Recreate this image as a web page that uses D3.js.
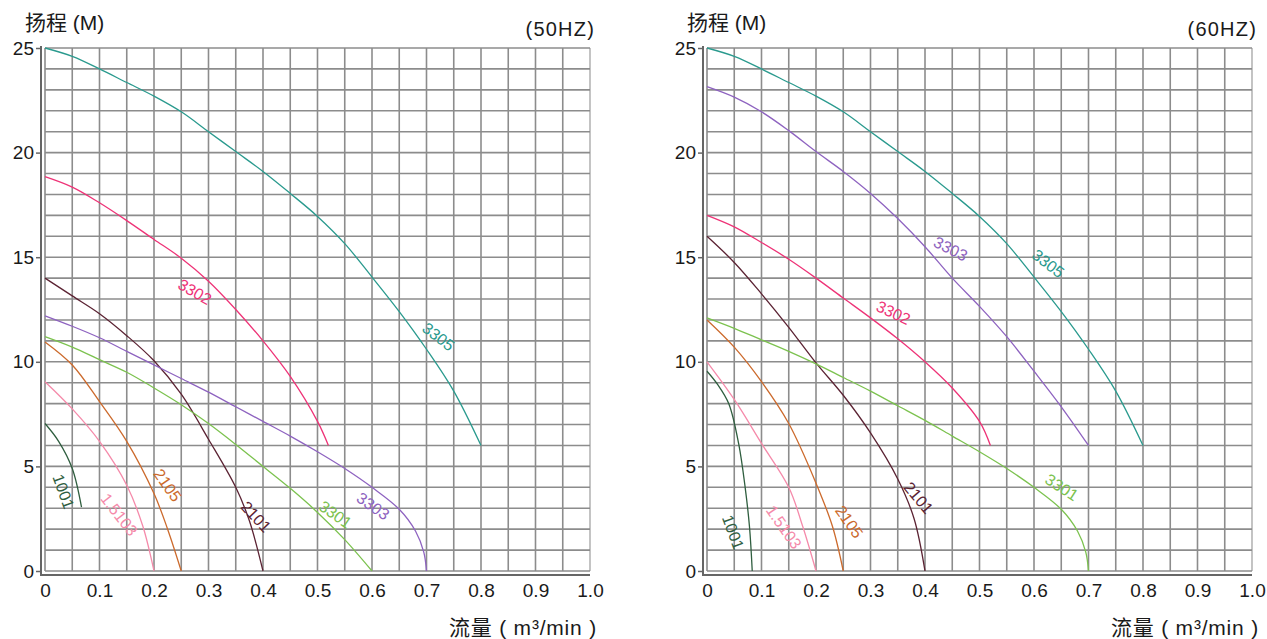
<!DOCTYPE html>
<html>
<head>
<meta charset="utf-8">
<title>水泵性能曲线</title>
<script src="https://cdn.jsdelivr.net/npm/d3@7/dist/d3.min.js"></script>
<style>
body {
  margin: 0;
  background: #fff;
  font-family: "Liberation Sans", Arial, "Noto Sans CJK SC", sans-serif;
}
</style>
</head>
<body>
<svg id="chart" width="1267" height="639"></svg>
<script>

// tick labels
var flowTicks = [0, 0.1, 0.2, 0.3, 0.4, 0.5, 0.6, 0.7, 0.8, 0.9, 1.0];
var flowTickText = ["0", "0.1", "0.2", "0.3", "0.4", "0.5", "0.6", "0.7", "0.8", "0.9", "1.0"];
var headTicks = [0, 5, 10, 15, 20, 25];

// pump models and their colours
var models = ["1001", "1.5103", "2105", "2101", "3301", "3303", "3302", "3305"];
var modelColors = ["#2f5e3f", "#f58aaa", "#cc6a2c", "#5b2333", "#7cc24f", "#8e63c0", "#ee3377", "#2a9a8e"];

// 50HZ curves: [flow m3/min, head m]
var hz50_1001 = [[0, 7.05], [0.025, 6.2], [0.05, 4.9], [0.067, 3.05]];
var hz50_15103 = [[0, 9.05], [0.05, 7.75], [0.1, 6.2], [0.15, 4.1], [0.18, 2.1], [0.2, 0]];
var hz50_2105 = [[0, 10.95], [0.05, 9.85], [0.1, 8.1], [0.15, 6.2], [0.2, 3.7], [0.225, 2.0], [0.25, 0]];
var hz50_2101 = [[0, 14], [0.05, 13.15], [0.1, 12.3], [0.15, 11.25], [0.2, 10.05], [0.25, 8.45], [0.3, 6.3], [0.35, 4.0], [0.375, 2.4], [0.4, 0]];
var hz50_3301 = [[0, 11.2], [0.05, 10.7], [0.1, 10.1], [0.15, 9.5], [0.2, 8.75], [0.25, 7.95], [0.3, 7.05], [0.35, 6.05], [0.4, 5.0], [0.45, 3.95], [0.5, 2.8], [0.55, 1.5], [0.6, 0]];
var hz50_3303 = [[0, 12.2], [0.05, 11.7], [0.1, 11.15], [0.15, 10.5], [0.2, 9.85], [0.25, 9.2], [0.3, 8.55], [0.35, 7.85], [0.4, 7.15], [0.45, 6.45], [0.5, 5.7], [0.55, 4.9], [0.6, 4.0], [0.65, 2.95], [0.68, 1.9], [0.695, 0.9], [0.7, 0]];
var hz50_3302 = [[0, 18.85], [0.05, 18.35], [0.1, 17.6], [0.15, 16.75], [0.2, 15.85], [0.25, 14.95], [0.3, 13.85], [0.35, 12.5], [0.4, 11.0], [0.45, 9.3], [0.5, 7.15], [0.52, 6]];
var hz50_3305 = [[0, 25], [0.05, 24.6], [0.1, 24], [0.15, 23.35], [0.2, 22.7], [0.25, 21.95], [0.3, 21], [0.35, 20.05], [0.4, 19.1], [0.45, 18.05], [0.5, 16.95], [0.55, 15.65], [0.6, 14.05], [0.65, 12.4], [0.7, 10.6], [0.75, 8.6], [0.8, 6]];

// 60HZ curves
var hz60_1001 = [[0, 9.55], [0.02, 8.9], [0.04, 8.0], [0.058, 6.1], [0.07, 4.0], [0.078, 2.1], [0.083, 0]];
var hz60_15103 = [[0, 10], [0.05, 8.2], [0.1, 6.1], [0.15, 4.0], [0.176, 2.1], [0.2, 0]];
var hz60_2105 = [[0, 12], [0.05, 10.7], [0.1, 9.05], [0.15, 7.05], [0.2, 4.2], [0.23, 2.15], [0.25, 0]];
var hz60_2101 = [[0, 16], [0.05, 14.75], [0.1, 13.25], [0.15, 11.65], [0.2, 9.95], [0.25, 8.4], [0.3, 6.6], [0.35, 4.4], [0.38, 2.5], [0.4, 0]];
var hz60_3301 = [[0, 12.1], [0.05, 11.6], [0.1, 11.05], [0.15, 10.5], [0.2, 9.9], [0.25, 9.25], [0.3, 8.6], [0.35, 7.9], [0.4, 7.2], [0.45, 6.45], [0.5, 5.7], [0.55, 4.9], [0.6, 4.0], [0.65, 2.95], [0.68, 1.9], [0.695, 0.9], [0.7, 0]];
var hz60_3303 = [[0, 23.15], [0.05, 22.65], [0.1, 21.95], [0.15, 21.05], [0.2, 20.05], [0.25, 19.1], [0.3, 18.05], [0.35, 16.85], [0.4, 15.5], [0.45, 14.0], [0.5, 12.65], [0.55, 11.2], [0.6, 9.55], [0.65, 7.85], [0.7, 6]];
var hz60_3302 = [[0, 17], [0.05, 16.45], [0.1, 15.7], [0.15, 14.9], [0.2, 14.0], [0.25, 13.05], [0.3, 12.1], [0.35, 11.1], [0.4, 10.0], [0.45, 8.75], [0.5, 7.15], [0.52, 6]];
var hz60_3305 = [[0, 25], [0.05, 24.6], [0.1, 24], [0.15, 23.35], [0.2, 22.7], [0.25, 21.95], [0.3, 21], [0.35, 20.05], [0.4, 19.1], [0.45, 18.05], [0.5, 16.95], [0.55, 15.65], [0.6, 14.05], [0.65, 12.4], [0.7, 10.6], [0.75, 8.6], [0.8, 6]];

// where the model name sits on each panel: [flow, head, rotation]
var labelSpots50 = [[0.034, 3.8, 70], [0.136, 2.7, 52], [0.225, 4.1, 55], [0.387, 2.6, 47], [0.533, 2.7, 35], [0.602, 3.1, 35], [0.275, 13.35, 30], [0.722, 11.2, 38]];
var labelSpots60 = [[0.048, 1.85, 70], [0.141, 2.1, 55], [0.261, 2.35, 55], [0.388, 3.5, 50], [0.651, 4.0, 33], [0.447, 15.4, 27], [0.342, 12.35, 25], [0.626, 14.7, 38]];

var panels = [
  { title: "(50HZ)", left: 45, curves: [hz50_1001, hz50_15103, hz50_2105, hz50_2101, hz50_3301, hz50_3303, hz50_3302, hz50_3305], spots: labelSpots50 },
  { title: "(60HZ)", left: 707, curves: [hz60_1001, hz60_15103, hz60_2105, hz60_2101, hz60_3301, hz60_3303, hz60_3302, hz60_3305], spots: labelSpots60 }
];

var plotW = 545, plotTop = 48, plotBottom = 571;
var svg = d3.select("#chart");

panels.forEach(function (p) {
  var x = d3.scaleLinear().domain([0, 1]).range([p.left, p.left + plotW]);
  var y = d3.scaleLinear().domain([0, 25]).range([plotBottom, plotTop]);
  var g = svg.append("g");

  // grid: every 0.05 on flow, every 1 m on head
  g.selectAll("line.v").data(d3.range(0, 21)).enter().append("line")
    .attr("x1", function (i) { return x(i * 0.05); })
    .attr("x2", function (i) { return x(i * 0.05); })
    .attr("y1", plotTop).attr("y2", plotBottom)
    .style("stroke", function (i) { return i === 20 ? "#b5b5b5" : "#8c8c8c"; })
    .style("stroke-width", 1.6);
  g.selectAll("line.h").data(d3.range(0, 26)).enter().append("line")
    .attr("x1", x(0)).attr("x2", x(1))
    .attr("y1", function (v) { return y(v); })
    .attr("y2", function (v) { return y(v); })
    .style("stroke", "#8c8c8c")
    .style("stroke-width", 1.6);

  // axes, drawn a little outside the grid
  var yAxis = d3.axisLeft(y).tickValues(headTicks).tickSize(5).tickPadding(2);
  var ya = g.append("g").attr("transform", "translate(" + (p.left - 4) + ",0)").call(yAxis);
  ya.select(".domain").attr("d", "M0," + (plotTop - 2) + "V" + (plotBottom + 5));
  var xAxis = d3.axisBottom(x).tickValues(flowTicks).tickSize(0).tickPadding(9)
    .tickFormat(function (d, i) { return flowTickText[i]; });
  var xa = g.append("g").attr("transform", "translate(0," + (plotBottom + 4) + ")").call(xAxis);
  xa.select(".domain").attr("d", "M" + (p.left - 4) + ",0H" + (p.left + plotW));
  g.selectAll(".domain").style("stroke", "#666").style("stroke-width", 2);
  g.selectAll(".tick line").style("stroke", "#666").style("stroke-width", 1.5);
  g.selectAll(".tick text").style("font-size", "19px").style("fill", "#1a1a1a")
    .style("font-family", "'Liberation Sans', Arial, sans-serif");

  // performance curves, smoothed through the read-off points
  var line = d3.line()
    .x(function (d) { return x(d[0]); })
    .y(function (d) { return y(d[1]); })
    .curve(d3.curveCatmullRom.alpha(0.5));
  g.selectAll("path.curve").data(p.curves).enter().append("path")
    .attr("class", "curve")
    .attr("d", line)
    .style("fill", "none")
    .style("stroke", function (d, i) { return modelColors[i]; })
    .style("stroke-width", 1.3);

  // model labels
  g.selectAll("text.model").data(p.spots).enter().append("text")
    .attr("class", "model")
    .attr("transform", function (s) { return "translate(" + x(s[0]) + "," + y(s[1]) + ")rotate(" + s[2] + ")"; })
    .attr("text-anchor", "middle")
    .attr("dy", "0.35em")
    .style("font-size", "16px")
    .style("fill", function (s, i) { return modelColors[i]; })
    .text(function (s, i) { return models[i]; });

  // titles
  g.append("text").attr("x", p.left - 20).attr("y", 30)
    .style("font-size", "21px").style("fill", "#1a1a1a")
    .text("扬程 (M)");
  g.append("text").attr("x", p.left + plotW + 5).attr("y", 36)
    .attr("text-anchor", "end")
    .style("font-size", "20px").style("letter-spacing", "1.2px").style("fill", "#1a1a1a")
    .text(p.title);
  g.append("text").attr("x", p.left + plotW + 7).attr("y", 635)
    .attr("text-anchor", "end")
    .style("font-size", "21px").style("letter-spacing", "0.8px").style("fill", "#1a1a1a")
    .text("流量 ( m³/min )");
});

</script>
</body>
</html>
